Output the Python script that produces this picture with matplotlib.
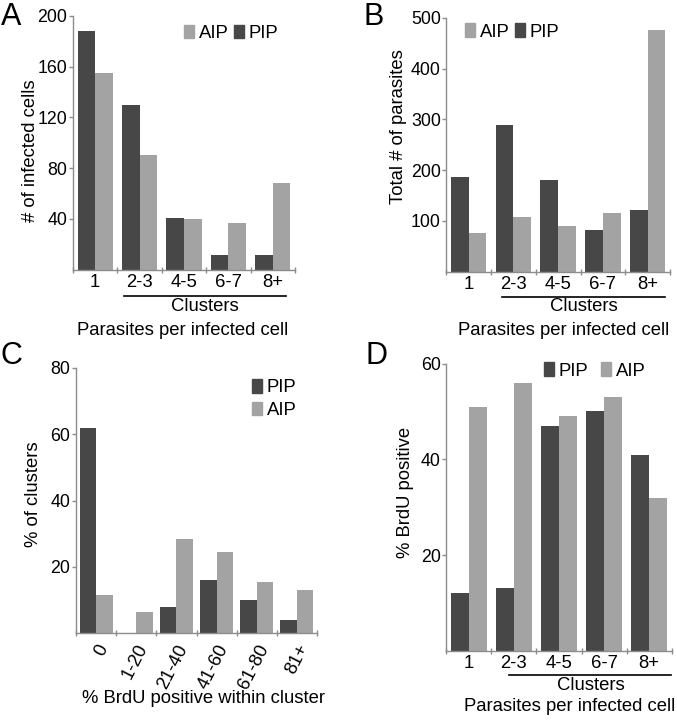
import numpy as np
import matplotlib
matplotlib.use('Agg')
import matplotlib.pyplot as plt
from matplotlib.patches import Patch
import matplotlib.transforms as mtransforms

plt.rcParams['font.family'] = ['Liberation Sans', 'DejaVu Sans']
plt.rcParams['font.size'] = 13.3

# data
groups = ['1', '2-3', '4-5', '6-7', '8+']
a_pip = [188, 130, 41, 12, 12]
a_aip = [155, 90, 40, 37, 68]
b_pip = [187, 289, 181, 82, 121]
b_aip = [77, 107, 90, 116, 476]
brdu_bins = ['0', '1-20', '21-40', '41-60', '61-80', '81+']
c_pip = [62, 0, 8, 16, 10, 4]
c_aip = [11.5, 6.5, 28.5, 24.5, 15.5, 13]
d_pip = [12, 13, 47, 50, 41]
d_aip = [51, 56, 49, 53, 32]

DARK = '#474747'
LIGHT = '#a3a3a3'
SPINE = '#8c8c8c'

W, H = 677, 720
fig = plt.figure(figsize=(W / 100, H / 100), dpi=100)


def px_axes(left, top, right, bottom):
    return fig.add_axes([left / W, 1 - bottom / H, (right - left) / W, (bottom - top) / H])


def style(ax, n, ymax, yticks):
    ax.set_xlim(0, n)
    ax.set_ylim(0, ymax)
    for s in ['top', 'right']:
        ax.spines[s].set_visible(False)
    for s in ['left', 'bottom']:
        ax.spines[s].set_color(SPINE)
        ax.spines[s].set_linewidth(1)
    ax.set_yticks(yticks)
    ax.tick_params(axis='y', length=3, width=1, color=SPINE, pad=1, labelsize=12.8)
    ax.set_xticks(np.arange(n + 1))
    ax.set_xticklabels([])
    ax.tick_params(axis='x', which='major', length=4, width=1, color=SPINE, direction='inout')
    ax.set_xticks(np.arange(n) + 0.5, minor=True)
    ax.tick_params(axis='x', which='minor', length=0, pad=3, labelsize=13.3)


def bars(ax, pip, aip, w=0.395):
    x = np.arange(len(pip)) + 0.5
    ax.bar(x - w / 2, pip, w, color=DARK)
    ax.bar(x + w / 2, aip, w, color=LIGHT)


def clusters(ax, x0, x1, yline, ytxt, xt, ylab, xl):
    tr = mtransforms.blended_transform_factory(ax.transData, ax.transAxes)
    ax.plot([x0, x1], [yline, yline], color='black', lw=1.2, transform=tr, clip_on=False)
    ax.text(xt, ytxt, 'Clusters', transform=tr, ha='center', va='center')
    ax.text(xl, ylab, 'Parasites per infected cell', transform=tr, ha='center', va='center')


def legend(ax, order, anchor, ncol, colsp=0.3, loc='center left'):
    cols = {'PIP': DARK, 'AIP': LIGHT}
    handles = [Patch(color=cols[k], label=k) for k in order]
    ax.legend(handles=handles, loc=loc, bbox_to_anchor=anchor, ncol=ncol, frameon=False,
              handlelength=0.55, handleheight=0.75, handletextpad=0.25, columnspacing=colsp,
              labelspacing=0.3, borderpad=0, borderaxespad=0)


# A
axA = px_axes(73, 15.7, 295, 269.8)
bars(axA, a_pip, a_aip)
style(axA, 5, 200, [40, 80, 120, 160, 200])
axA.set_xticklabels(groups, minor=True)
axA.set_ylabel('# of infected cells')
axA.yaxis.set_label_coords(-0.155, 0.47)
clusters(axA, 1.15, 4.8, -0.103, -0.145, 2.97, -0.237, 2.48)
legend(axA, ['AIP', 'PIP'], (0.5, 0.93), 2)

# B
axB = px_axes(446.3, 17.7, 670, 271.8)
bars(axB, b_pip, b_aip)
style(axB, 5, 500, [100, 200, 300, 400, 500])
axB.set_xticklabels(groups, minor=True)
axB.set_ylabel('Total # of parasites')
axB.yaxis.set_label_coords(-0.175, 0.57)
clusters(axB, 1.25, 4.88, -0.1, -0.137, 3.08, -0.23, 2.63)
legend(axB, ['AIP', 'PIP'], (0.084, 0.944), 2)

# C
axC = px_axes(76, 368, 317, 633.2)
bars(axC, c_pip, c_aip, w=0.41)
style(axC, 6, 80, [20, 40, 60, 80])
axC.set_xticklabels(brdu_bins, minor=True, rotation=63, ha='right', rotation_mode='anchor')
axC.tick_params(axis='x', which='minor', pad=6)
axC.set_ylabel('% of clusters')
axC.yaxis.set_label_coords(-0.14, 0.525)
trC = mtransforms.blended_transform_factory(axC.transData, axC.transAxes)
axC.text(3.17, -0.245, '% BrdU positive within cluster', transform=trC, ha='center', va='center')
legend(axC, ['PIP', 'AIP'], (0.73, 0.883), 1)

# D
axD = px_axes(446.3, 363.6, 671.7, 650.7)
bars(axD, d_pip, d_aip)
style(axD, 5, 60, [20, 40, 60])
axD.set_xticklabels(groups, minor=True)
axD.set_ylabel('% BrdU positive')
axD.yaxis.set_label_coords(-0.143, 0.55)
clusters(axD, 1.4, 4.98, -0.085, -0.12, 3.2, -0.195, 2.74)
legend(axD, ['PIP', 'AIP'], (0.433, 0.974), 2, colsp=0.7)

# panel letters
for letter, x, y in [('A', 1, 2), ('B', 364, 2), ('C', 0, 341), ('D', 366, 341)]:
    fig.text(x / W, 1 - y / H, letter, fontsize=22, ha='left', va='top')

fig.savefig('out.png', dpi=100)
